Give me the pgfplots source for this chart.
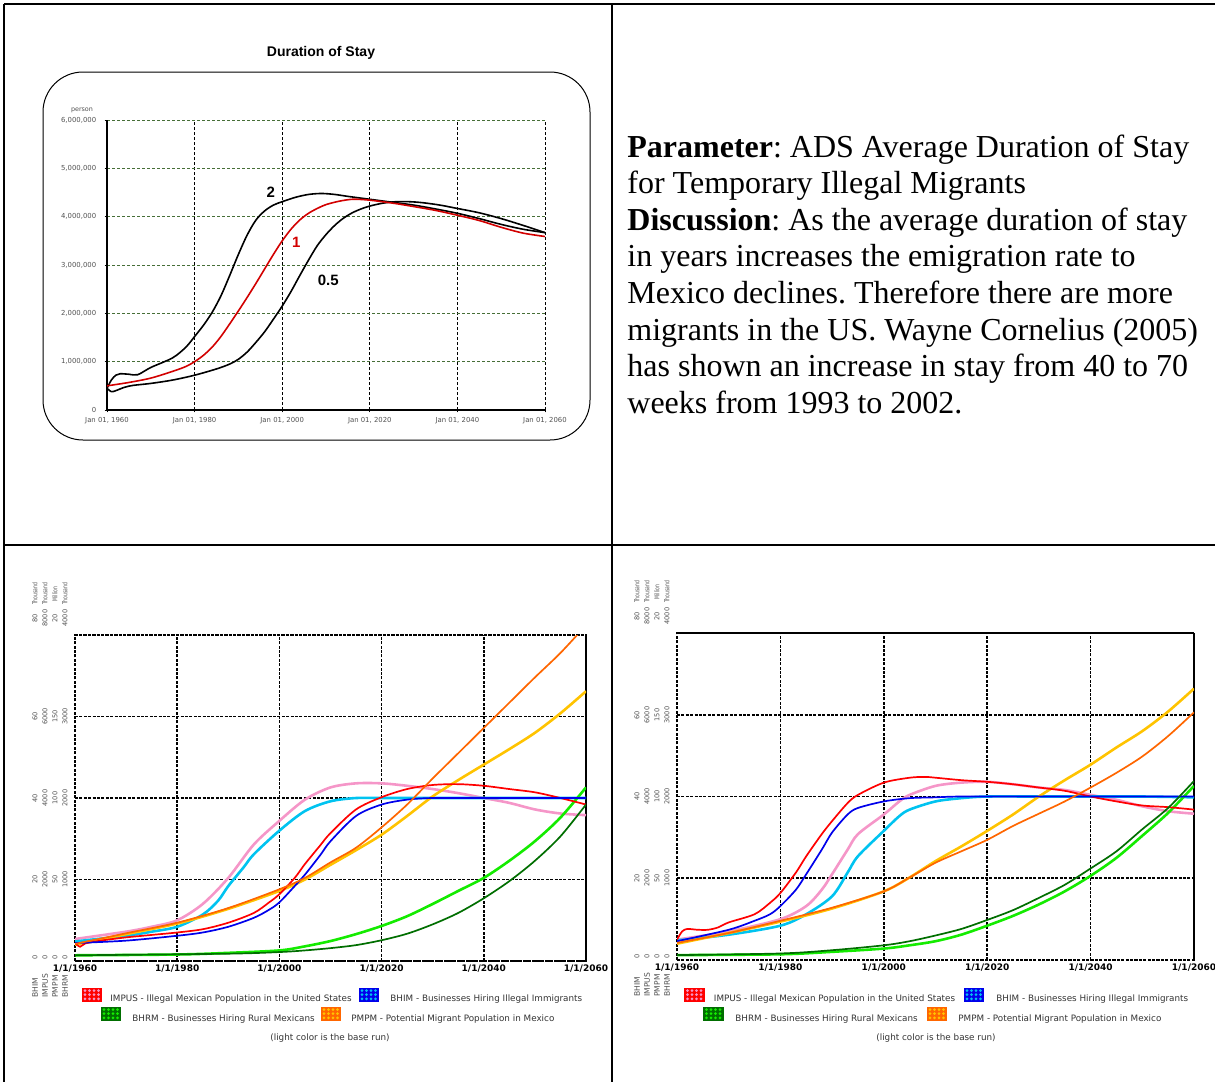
\documentclass[border=0pt]{standalone}
\usepackage{fontspec}
\setmainfont{Liberation Serif}
\newfontfamily\verd{DejaVu Sans}
\newfontfamily\arialf{Liberation Sans}
\usepackage{pgfplots}
\pgfplotsset{compat=1.18}
\frenchspacing

\definecolor{cpink}{RGB}{245,150,200}
\definecolor{cred}{RGB}{255,0,0}
\definecolor{cblue}{RGB}{0,0,235}
\definecolor{ccyan}{RGB}{0,195,240}
\definecolor{corange}{RGB}{255,102,0}
\definecolor{cyellow}{RGB}{255,195,0}
\definecolor{clgreen}{RGB}{20,235,0}
\definecolor{cdgreen}{RGB}{0,110,0}
\definecolor{topred}{RGB}{210,0,0}
\definecolor{gridgreen}{RGB}{70,110,55}
\definecolor{labgray}{RGB}{80,80,80}

\pgfplotsset{
  botaxis/.style={scale only axis, xmin=1960, xmax=2060, ymin=0, ymax=4,
    xtick={1960,1980,2000,2020,2040,2060},
    xticklabels={1/1/1960,1/1/1980,1/1/2000,1/1/2020,1/1/2040,1/1/2060},
    ytick={0,1,2,3,4}, yticklabels={},
    grid=major,
    major grid style={black, line width=0.8pt, dash pattern=on 1.5pt off 0.7pt},
    axis line style={black, line width=0.8pt, dash pattern=on 1.5pt off 0.7pt},
    tick style={draw=none}, major tick length=0pt,
    /pgf/number format/assume math mode=true,
    xticklabel style={font=\verd\bfseries\fontsize{4.5}{5}\selectfont, inner sep=0.8pt, yshift=-0.8pt},
    clip=true},
  impus/.style={y filter/.expression={y/2000}},
  bhim/.style={y filter/.expression={y/20}},
  pmpm/.style={y filter/.expression={y/50}},
  bhrm/.style={y filter/.expression={y/1000}},
  light/.style={line width=1.3pt, smooth},
  dark/.style={line width=0.85pt, smooth},
}

\newcommand{\legsq}[4]{%
  \fill[#4] (#1,#2) rectangle ++(19.5,13.5);
  \foreach \i in {0,1,2,3} \foreach \j in {0,1,2}
    \fill[#3] (#1+3+4.5*\i,#2+2.5+4.2*\j) circle[radius=0.75pt];
  \draw[#4, line width=0.4pt] (#1,#2) rectangle ++(19.5,13.5);}
\newcommand{\un}[1]{\scalebox{0.68}[1]{#1}}

\begin{document}
\begin{tikzpicture}
\begin{scope}[x=0.5pt,y=-0.5pt]
  % table lines
  \draw[line width=1pt] (4,4) -- (1215,4);
  \draw[line width=1pt] (4,4) -- (4,1082);
  \draw[line width=1pt] (612,4) -- (612,1082);
  \draw[line width=1pt] (4,545) -- (1215,545);
  % top-left frame
  \draw[line width=0.5pt, rounded corners=20pt] (43,72) rectangle (590,440);
  \node[font=\arialf\bfseries\fontsize{7}{8}\selectfont] at (321,53) {Duration of Stay};
  \node[font=\verd\fontsize{3.2}{4}\selectfont, text=labgray] at (82,110) {person};
  % right text
  \begin{scope}[every node/.style={anchor=base west, inner sep=0, font=\fontsize{16}{18}\selectfont}]
    \node at (627,157) {\textbf{Parameter}: ADS Average Duration of Stay};
    \node at (627,193.6) {for Temporary Illegal Migrants};
    \node at (627,230.2) {\textbf{Discussion}: As the average duration of stay};
    \node at (627,266.8) {in years increases the emigration rate to};
    \node at (627,303.4) {Mexico declines. Therefore there are more};
    \node at (627,340) {migrants in the US. Wayne Cornelius (2005)};
    \node at (627,376.6) {has shown an increase in stay from 40 to 70};
    \node at (627,413.2) {weeks from 1993 to 2002.};
  \end{scope}
  % bottom y label columns
  \begin{scope}[every node/.style={rotate=90, inner sep=0, font=\verd\fontsize{3.3}{4}\selectfont, text=labgray},
                nm/.style={anchor=west, font=\verd\fontsize{3.8}{4}\selectfont}]
    % left chart
    \node at (35,957) {0}; \node at (45,957) {0}; \node at (55,957) {0}; \node at (65,957) {0};
    \node at (35,879.5) {20}; \node at (45,879.5) {2000}; \node at (55,879.5) {50}; \node at (65,879.5) {1000};
    \node at (35,798) {40}; \node at (45,798) {4000}; \node at (55,798) {100}; \node at (65,798) {2000};
    \node at (35,716.5) {60}; \node at (45,716.5) {6000}; \node at (55,716.5) {150}; \node at (65,716.5) {3000};
    \node at (35,618) {80}; \node at (45,618) {8000}; \node at (55,618) {20}; \node at (65,618) {4000};
    \node at (35,594) {\un{Thousand}}; \node at (45,594) {\un{Thousand}}; \node at (55,594) {\un{Million}}; \node at (65,594) {\un{Thousand}};
    \node[nm] at (35,998) {BHIM}; \node[nm] at (45,998) {IMPUS};
    \node[nm] at (55,998) {PMPM}; \node[nm] at (65,998) {BHRM};
    % right chart
    \node at (637,956) {0}; \node at (647,956) {0}; \node at (657,956) {0}; \node at (667,956) {0};
    \node at (637,878) {20}; \node at (647,878) {2000}; \node at (657,878) {50}; \node at (667,878) {1000};
    \node at (637,796.5) {40}; \node at (647,796.5) {4000}; \node at (657,796.5) {100}; \node at (667,796.5) {2000};
    \node at (637,715) {60}; \node at (647,715) {6000}; \node at (657,715) {150}; \node at (667,715) {3000};
    \node at (637,616) {80}; \node at (647,616) {8000}; \node at (657,616) {20}; \node at (667,616) {4000};
    \node at (637,592) {\un{Thousand}}; \node at (647,592) {\un{Thousand}}; \node at (657,592) {\un{Million}}; \node at (667,592) {\un{Thousand}};
    \node[nm] at (637,997) {BHIM}; \node[nm] at (647,997) {IMPUS};
    \node[nm] at (657,997) {PMPM}; \node[nm] at (667,997) {BHRM};
  \end{scope}
  % legends
  \begin{scope}[every node/.style={anchor=base west, inner sep=0, font=\verd\fontsize{4.4}{5}\selectfont, text=black!80}]
    \legsq{82}{988}{cpink}{cred}
    \node at (110,1001.5) {IMPUS - Illegal Mexican Population in the United States};
    \legsq{359}{988}{ccyan}{cblue}
    \node at (390,1001.5) {BHIM - Businesses Hiring Illegal Immigrants};
    \legsq{101}{1007}{clgreen}{cdgreen}
    \node at (132,1021) {BHRM - Businesses Hiring Rural Mexicans};
    \legsq{321}{1007}{cyellow}{corange}
    \node at (351,1021) {PMPM - Potential Migrant Population in Mexico};
    \node[anchor=base] at (330,1040.5) {(light color is the base run)};
    \legsq{684.5}{988}{cpink}{cred}
    \node at (713.5,1001.5) {IMPUS - Illegal Mexican Population in the United States};
    \legsq{964}{988}{ccyan}{cblue}
    \node at (996,1001.5) {BHIM - Businesses Hiring Illegal Immigrants};
    \legsq{703.5}{1007}{clgreen}{cdgreen}
    \node at (735,1021) {BHRM - Businesses Hiring Rural Mexicans};
    \legsq{927}{1007}{cyellow}{corange}
    \node at (958,1021) {PMPM - Potential Migrant Population in Mexico};
    \node[anchor=base] at (936,1040.5) {(light color is the base run)};
  \end{scope}
\end{scope}

% ---------- top chart ----------
\begin{axis}[at={(53.5pt,-205pt)}, anchor=south west, scale only axis,
  width=219pt, height=145pt,
  xmin=1960, xmax=2060, ymin=0, ymax=6000000,
  axis x line*=bottom, axis y line*=left,
  axis line style={-, black, line width=0.6pt},
  xtick={1960,1980,2000,2020,2040,2060},
  xticklabels={{Jan 01, 1960},{Jan 01, 1980},{Jan 01, 2000},{Jan 01, 2020},{Jan 01, 2040},{Jan 01, 2060}},
  ytick={0,1000000,2000000,3000000,4000000,5000000,6000000},
  yticklabels={0,{1,000,000},{2,000,000},{3,000,000},{4,000,000},{5,000,000},{6,000,000}},
  scaled y ticks=false,
  xmajorgrids, ymajorgrids,
  x grid style={black, line width=0.4pt, dash pattern=on 1.5pt off 1pt},
  y grid style={gridgreen, line width=0.5pt, dash pattern=on 1.5pt off 1pt},
  tick align=outside, major tick length=1.2pt, tick style={black, line width=0.4pt},
  /pgf/number format/assume math mode=true,
  ticklabel style={font=\verd\fontsize{3.45}{4}\selectfont, text=labgray},
  xticklabel style={inner sep=1pt, yshift=-1.3pt},
  yticklabel style={inner sep=1pt, xshift=-3pt},
]
\addplot[black, line width=0.8pt, smooth] coordinates {
(1960,450000)(1961,620000)(1962,720000)(1963,750000)(1965,740000)(1967,730000)(1970,880000)(1975,1080000)(1978,1300000)(1980,1520000)(1982,1750000)(1984,2020000)(1986,2360000)(1988,2780000)(1990,3220000)(1992,3620000)(1994,3930000)(1996,4120000)(1998,4240000)(2000,4310000)(2003,4400000)(2006,4460000)(2009,4480000)(2012,4460000)(2015,4420000)(2020,4360000)(2025,4300000)(2030,4240000)(2035,4160000)(2040,4070000)(2045,3960000)(2050,3840000)(2055,3740000)(2060,3670000)};
\addplot[black, line width=0.8pt, smooth] coordinates {
(1960,450000)(1961,380000)(1962,400000)(1964,470000)(1966,510000)(1970,550000)(1975,620000)(1980,720000)(1985,850000)(1988,950000)(1990,1050000)(1992,1200000)(1994,1400000)(1996,1620000)(1998,1880000)(2000,2150000)(2002,2450000)(2004,2780000)(2006,3100000)(2008,3400000)(2010,3630000)(2012,3820000)(2014,3970000)(2016,4080000)(2018,4160000)(2020,4220000)(2023,4280000)(2026,4310000)(2029,4310000)(2032,4290000)(2036,4240000)(2040,4170000)(2045,4080000)(2050,3960000)(2055,3820000)(2060,3670000)};
\addplot[topred, line width=0.8pt, smooth] coordinates {
(1960,500000)(1965,570000)(1970,660000)(1975,800000)(1978,900000)(1980,1000000)(1982,1130000)(1984,1300000)(1986,1520000)(1988,1780000)(1990,2050000)(1992,2330000)(1994,2620000)(1996,2920000)(1998,3220000)(2000,3500000)(2002,3740000)(2004,3930000)(2006,4070000)(2008,4170000)(2010,4250000)(2013,4320000)(2016,4360000)(2019,4350000)(2022,4320000)(2026,4270000)(2030,4210000)(2035,4130000)(2040,4030000)(2045,3920000)(2050,3780000)(2055,3660000)(2060,3590000)};
\node[font=\arialf\bfseries\fontsize{7.5}{8}\selectfont] at (axis cs:1997.4,4510000) {2};
\node[font=\arialf\bfseries\fontsize{7.5}{8}\selectfont, text=topred] at (axis cs:2003.2,3460000) {1};
\node[font=\arialf\bfseries\fontsize{7.5}{8}\selectfont] at (axis cs:2010.5,2690000) {0.5};
\end{axis}

% ---------- bottom-left chart ----------
\begin{axis}[botaxis, at={(37.5pt,-480.5pt)}, anchor=south west, width=255.5pt, height=163pt]
\addplot[cpink, light, impus] coordinates {(1960,540)(1970,720)(1975,840)(1980,1000)(1985,1400)(1990,2040)(1995,2860)(2000,3440)(2005,3960)(2010,4260)(2015,4360)(2020,4360)(2025,4300)(2030,4220)(2035,4120)(2040,4000)(2045,3880)(2050,3720)(2055,3620)(2060,3580)};
\addplot[ccyan, light, bhim] coordinates {(1960,4.8)(1970,6.2)(1975,7.2)(1980,8.4)(1985,11.4)(1988,14.8)(1990,18.4)(1993,23.0)(1995,26.2)(2000,32)(2005,36.8)(2010,39.2)(2015,40)(2020,40)(2030,40)(2040,40)(2050,40)(2060,40)};
\addplot[cyellow, light, pmpm] coordinates {(1960,10)(1970,16.5)(1980,23)(1990,32)(2000,43)(2005,50)(2010,59)(2015,68)(2020,77.5)(2025,89)(2030,101)(2035,111)(2040,120.5)(2045,130)(2050,140)(2055,152)(2060,165.5)};
\addplot[clgreen, light, bhrm] coordinates {(1960,70)(1980,80)(1990,100)(2000,130)(2005,180)(2010,245)(2015,330)(2020,430)(2025,550)(2030,700)(2035,860)(2040,1020)(2045,1230)(2050,1470)(2055,1760)(2060,2130)};
\addplot[cred, dark, impus] coordinates {(1960,440)(1961,350)(1962,430)(1965,500)(1970,580)(1975,640)(1980,700)(1985,780)(1990,940)(1995,1180)(1998,1440)(2000,1640)(2003,2040)(2005,2380)(2008,2840)(2010,3140)(2015,3720)(2020,4020)(2025,4220)(2030,4320)(2035,4340)(2040,4300)(2045,4220)(2050,4140)(2055,4000)(2060,3840)};
\addplot[cblue, dark, bhim] coordinates {(1960,4.4)(1970,5.0)(1980,6.2)(1985,7.0)(1990,8.4)(1995,10.6)(1998,12.6)(2000,14.4)(2003,18.4)(2005,21.2)(2008,26)(2010,29.4)(2015,35.6)(2020,38.4)(2025,39.6)(2030,40)(2040,40)(2050,40)(2060,40)};
\addplot[corange, dark, pmpm] coordinates {(1960,10.5)(1970,17)(1980,23.5)(1990,32.5)(2000,44)(2005,51)(2010,60.5)(2015,69.5)(2020,82)(2025,96)(2030,112)(2035,127.5)(2040,143)(2045,158.5)(2050,174)(2055,189)(2060,206)};
\addplot[cdgreen, dark, bhrm] coordinates {(1960,70)(1990,90)(2000,110)(2005,130)(2010,158)(2015,195)(2020,255)(2025,335)(2030,450)(2035,590)(2040,770)(2045,980)(2050,1230)(2055,1530)(2060,1920)};
\end{axis}

% ---------- bottom-right chart ----------
\begin{axis}[botaxis, at={(338.5pt,-480pt)}, anchor=south west, width=258.5pt, height=163.5pt]
\addplot[cpink, light, impus] coordinates {(1960,500)(1970,700)(1980,1000)(1985,1320)(1988,1720)(1990,2100)(1993,2700)(1995,3080)(2000,3560)(2003,3880)(2005,4040)(2010,4260)(2015,4340)(2020,4360)(2025,4300)(2030,4220)(2035,4160)(2040,4040)(2045,3920)(2050,3760)(2055,3640)(2060,3580)};
\addplot[ccyan, light, bhim] coordinates {(1960,4.8)(1970,6.2)(1980,8.4)(1985,11.2)(1990,15.6)(1993,21.4)(1995,25.4)(2000,31.6)(2003,35.2)(2005,36.8)(2010,38.8)(2015,39.6)(2020,40)(2030,40)(2040,40)(2050,40)(2060,39.8)};
\addplot[cyellow, light, pmpm] coordinates {(1960,10)(1970,16.5)(1980,23.5)(1990,31.5)(2000,42)(2005,50.5)(2010,60.5)(2015,69.5)(2020,79)(2025,89)(2030,100)(2035,110)(2040,119.5)(2045,130)(2050,140)(2055,152)(2060,166)};
\addplot[clgreen, light, bhrm] coordinates {(1960,60)(1980,70)(1990,100)(2000,140)(2005,180)(2010,230)(2015,310)(2020,420)(2025,540)(2030,680)(2035,840)(2040,1030)(2045,1250)(2050,1520)(2055,1800)(2060,2130)};
\addplot[cred, dark, impus] coordinates {(1960,500)(1961,700)(1962,760)(1964,740)(1966,740)(1968,800)(1970,920)(1975,1120)(1978,1400)(1980,1640)(1983,2140)(1985,2540)(1988,3080)(1990,3400)(1993,3840)(1995,4040)(2000,4340)(2005,4460)(2008,4480)(2010,4460)(2015,4400)(2020,4360)(2025,4300)(2030,4220)(2035,4140)(2040,4000)(2045,3880)(2050,3780)(2055,3740)(2060,3680)};
\addplot[cblue, dark, bhim] coordinates {(1960,4.6)(1970,7.4)(1975,9.6)(1978,11.2)(1980,13.2)(1983,17.2)(1985,21)(1988,27)(1990,31.2)(1993,35.6)(1995,37.2)(2000,38.8)(2005,39.6)(2010,39.8)(2015,40)(2030,40)(2045,40)(2060,40)};
\addplot[corange, dark, pmpm] coordinates {(1960,10.5)(1970,16.5)(1980,24)(1990,32)(2000,42)(2005,50.5)(2010,59.5)(2015,66.5)(2020,73.5)(2025,82)(2030,89.5)(2035,97)(2040,105.5)(2045,114.5)(2050,124.5)(2055,137)(2060,151.5)};
\addplot[cdgreen, dark, bhrm] coordinates {(1960,60)(1980,80)(1990,120)(2000,180)(2005,230)(2010,300)(2015,380)(2020,490)(2025,610)(2030,760)(2035,920)(2040,1120)(2045,1330)(2050,1600)(2055,1860)(2060,2190)};
\end{axis}

\pgfresetboundingbox
\useasboundingbox (0pt,0pt) rectangle (607.5pt,-541pt);
\end{tikzpicture}
\end{document}
